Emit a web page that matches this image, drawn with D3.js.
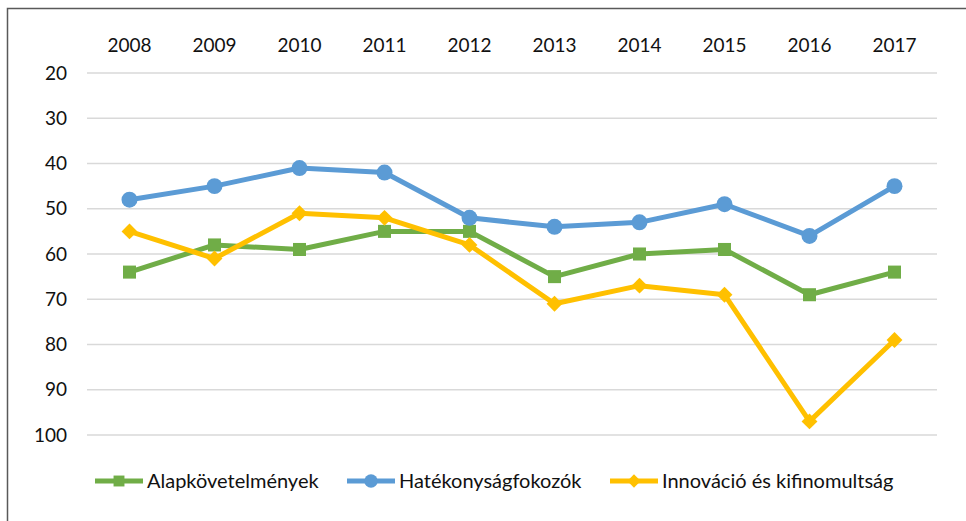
<!DOCTYPE html>
<html>
<head>
<meta charset="utf-8">
<script src="https://cdn.jsdelivr.net/npm/d3@7"></script>
<style>
  body { margin: 0; background: #fff; }
  svg text { font-family: Lato, "Open Sans", sans-serif; fill: #111; }
</style>
</head>
<body>
<svg id="chart" width="966" height="521"></svg>
<script>
var years = ["2008","2009","2010","2011","2012","2013","2014","2015","2016","2017"];
var yTicks = [20, 30, 40, 50, 60, 70, 80, 90, 100];
var alap = [64, 58, 59, 55, 55, 65, 60, 59, 69, 64];
var hatek = [48, 45, 41, 42, 52, 54, 53, 49, 56, 45];
var innov = [55, 61, 51, 52, 58, 71, 67, 69, 97, 79];

var series = [
    { name: "Alapkövetelmények", values: alap, color: "#70ad47", symbol: d3.symbolSquare, size: 170 },
    { name: "Hatékonyságfokozók", values: hatek, color: "#5b9bd5", symbol: d3.symbolCircle, size: 200 },
    { name: "Innováció és kifinomultság", values: innov, color: "#ffc000", symbol: d3.symbolDiamond2, size: 160 }
];

var svg = d3.select("#chart");

// outer frame (only top & left edges are visible in the picture)
svg.append("rect")
    .attr("x", 7.5).attr("y", 8.5)
    .attr("width", 1000).attr("height", 600)
    .attr("fill", "none")
    .attr("stroke", "#595959")
    .attr("stroke-width", 1.5);

var x = d3.scaleBand().domain(years).range([87, 937]);
var y = d3.scaleLinear().domain([20, 100]).range([73, 435]);

// gridlines
svg.append("g")
    .selectAll("line")
    .data(yTicks)
  .enter().append("line")
    .attr("x1", 87).attr("x2", 937)
    .attr("y1", function(d) { return y(d); })
    .attr("y2", function(d) { return y(d); })
    .attr("stroke", "#d9d9d9")
    .attr("stroke-width", 1.5);

// y labels
svg.append("g")
    .selectAll("text")
    .data(yTicks)
  .enter().append("text")
    .attr("x", 67)
    .attr("y", function(d) { return y(d); })
    .attr("dy", "0.35em")
    .attr("text-anchor", "end")
    .attr("font-size", 19)
    .text(function(d) { return d; });

// year labels on top
svg.append("g")
    .selectAll("text")
    .data(years)
  .enter().append("text")
    .attr("x", function(d) { return x(d) + x.bandwidth() / 2; })
    .attr("y", 45)
    .attr("dy", "0.35em")
    .attr("text-anchor", "middle")
    .attr("font-size", 19)
    .text(function(d) { return d; });

var line = d3.line()
    .x(function(d, i) { return x(years[i]) + x.bandwidth() / 2; })
    .y(function(d) { return y(d); });

series.forEach(function(s) {
    var grp = svg.append("g");
    grp.append("path")
        .attr("d", line(s.values))
        .attr("fill", "none")
        .attr("stroke", s.color)
        .attr("stroke-width", 5)
        .attr("stroke-linejoin", "round");
    grp.selectAll("path.mark")
        .data(s.values)
      .enter().append("path")
        .attr("class", "mark")
        .attr("d", d3.symbol().type(s.symbol).size(s.size))
        .attr("fill", s.color)
        .attr("transform", function(d, i) {
            return "translate(" + (x(years[i]) + x.bandwidth() / 2) + "," + y(d) + ")";
        });
});

// legend
var legendX = [95, 347, 610];
var leg = svg.append("g")
    .selectAll("g")
    .data(series)
  .enter().append("g")
    .attr("transform", function(d, i) { return "translate(" + legendX[i] + ",481)"; });

leg.append("line")
    .attr("x1", 0).attr("x2", 48)
    .attr("stroke", function(d) { return d.color; })
    .attr("stroke-width", 5);
leg.append("path")
    .attr("d", function(d) { return d3.symbol().type(d.symbol).size(d.size * 0.7)(); })
    .attr("transform", "translate(24,0)")
    .attr("fill", function(d) { return d.color; });
leg.append("text")
    .attr("x", 52)
    .attr("dy", "0.35em")
    .attr("font-size", 20)
    .text(function(d) { return d.name; });
</script>
</body>
</html>
